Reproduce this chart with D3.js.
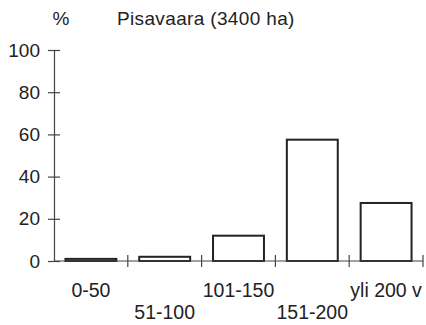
<!DOCTYPE html>
<html>
<head>
<meta charset="utf-8">
<script src="https://cdn.jsdelivr.net/npm/d3@7"></script>
<style>
  body { margin: 0; background: #fff; }
  text { font-family: "Liberation Sans", Arial, sans-serif; fill: #222; }
</style>
</head>
<body>
<svg id="chart"></svg>
<script>
const categories = ["0-50", "51-100", "101-150", "151-200", "yli 200 v"];
const values = [1, 2, 12, 57.5, 27.5];
const yTicks = [0, 20, 40, 60, 80, 100];

const width = 426, height = 325;
const margin = {top: 50, right: 3, bottom: 64, left: 54};

const svg = d3.select("#chart").attr("width", width).attr("height", height);

const x = d3.scaleBand()
    .domain(categories)
    .range([margin.left, width - margin.right])
    .paddingInner(0.31)
    .paddingOuter(0.155);

const y = d3.scaleLinear()
    .domain([0, 100])
    .range([height - margin.bottom, margin.top]);

// Bars
svg.selectAll(".bar")
    .data(values)
    .enter()
    .append("rect")
    .attr("class", "bar")
    .attr("x", (d, i) => x(categories[i]))
    .attr("y", d => y(d))
    .attr("width", x.bandwidth())
    .attr("height", d => y(0) - y(d))
    .attr("fill", "#fff")
    .attr("stroke", "#222")
    .attr("stroke-width", 2);

// Y axis
const yAxis = svg.append("g")
    .attr("transform", `translate(${margin.left},0)`)
    .call(d3.axisLeft(y).tickValues(yTicks).tickSize(6).tickPadding(8));
yAxis.select(".domain").attr("stroke", "#444").attr("stroke-width", 1.2);
yAxis.selectAll(".tick line").attr("x2", 6).attr("x1", -6).attr("stroke", "#444").attr("stroke-width", 1.2);
yAxis.selectAll(".tick text").attr("x", -14).style("font-size", "19px");

// X axis line and separators
const boundaries = categories.map(c => x(c) - x.step() * x.paddingInner() / 2)
    .concat([width - margin.right]);
svg.append("line")
    .attr("x1", margin.left).attr("x2", width - margin.right)
    .attr("y1", y(0)).attr("y2", y(0))
    .attr("stroke", "#444").attr("stroke-width", 1.2);
svg.selectAll(".xtick")
    .data(boundaries.slice(1))
    .enter()
    .append("line")
    .attr("x1", d => d).attr("x2", d => d)
    .attr("y1", y(0) - 6).attr("y2", y(0) + 6)
    .attr("stroke", "#444").attr("stroke-width", 1.2);

// X labels, alternating rows
svg.selectAll(".xlabel")
    .data(categories)
    .enter()
    .append("text")
    .attr("x", d => x(d) + x.bandwidth() / 2)
    .attr("y", (d, i) => i % 2 === 0 ? 297 : 319)
    .attr("text-anchor", "middle")
    .style("font-size", "19.5px")
    .text(d => d);

// Unit and title
svg.append("text")
    .attr("x", 61).attr("y", 25)
    .attr("text-anchor", "middle")
    .style("font-size", "19px")
    .text("%");

svg.append("text")
    .attr("x", 117).attr("y", 25)
    .style("font-size", "19px")
    .style("letter-spacing", "0.35px")
    .text("Pisavaara (3400 ha)");
</script>
</body>
</html>
